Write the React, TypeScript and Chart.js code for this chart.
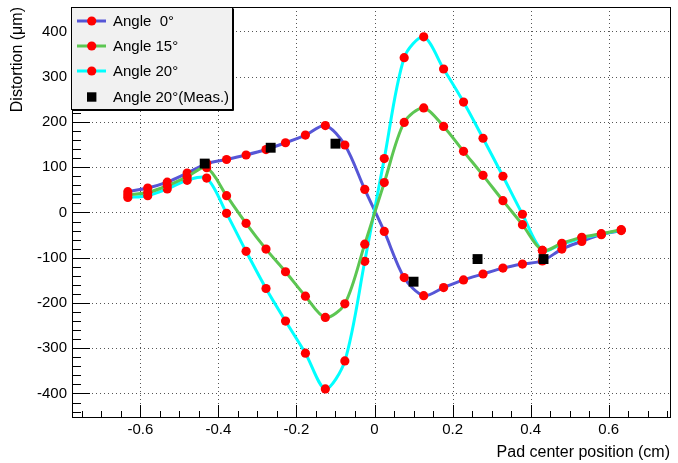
import React, { useEffect, useRef } from "react";
import { Chart, registerables } from "chart.js";

Chart.register(...registerables);

// ---- data ----
const xPositions = [
  -0.632, -0.581, -0.531, -0.48, -0.43, -0.379, -0.329, -0.278, -0.228, -0.177, -0.126, -0.076, -0.025,
  0.025, 0.076, 0.126, 0.177, 0.228, 0.278, 0.329, 0.379, 0.43, 0.48, 0.531, 0.581, 0.632,
];
const angle0 = [
  46, 54, 67, 87, 108, 117, 127, 139, 154, 171, 192, 149, 51,
  -42, -144, -184, -166, -149, -136, -123, -114, -107, -81, -64, -49, -40,
];
const angle15 = [
  39, 44, 59, 79, 99, 37, -24, -81, -131, -185, -232, -202, -70,
  66, 199, 231, 190, 135, 82, 26, -27, -84, -68, -55, -47, -38,
];
const angle20 = [
  33, 37, 52, 71, 76, -2, -86, -168, -240, -311, -390, -328, -108,
  119, 342, 388, 317, 244, 164, 80, -4, -84, -70, -57, -48, -39,
];
const measX = [-0.435, -0.266, -0.1, 0.1, 0.264, 0.433];
const measY = [108, 143, 152, -153, -103, -103];

const xTickValues = [-0.6, -0.4, -0.2, 0, 0.2, 0.4, 0.6];
const yTickValues = [-400, -300, -200, -100, 0, 100, 200, 300, 400];
const xMinorStep = 0.05;
const yMinorStep = 20;

const seriesLabels = ["Angle  0\u00b0", "Angle 15\u00b0", "Angle 20\u00b0", "Angle 20\u00b0(Meas.)"];
const xTitle = "Pad center position (cm)";
const yTitle = "Distortion (\u03bcm)";

const X_MIN = -0.775;
const X_MAX = 0.757;
const Y_MIN = -452;
const Y_MAX = 454;

const FONT = "'Liberation Sans', Arial, Helvetica, sans-serif";
const BLUE = "#5656d6";
const GREEN = "#5cc652";
const CYAN = "#00ffff";
const RED = "#ff0000";

const toPts = (xs: number[], ys: number[]) => xs.map((x, i) => ({ x, y: ys[i] }));

const framePlugin = {
  id: "rootFrame",
  beforeDatasetsDraw(chart: any) {
    const { ctx, chartArea: a, scales } = chart;
    const xs = scales.x;
    const ys = scales.y;
    ctx.save();
    ctx.lineWidth = 1;
    ctx.strokeStyle = "#555";
    ctx.setLineDash([1, 3]);
    xTickValues.forEach((v) => {
      const px = Math.round(xs.getPixelForValue(v)) + 0.5;
      ctx.beginPath();
      ctx.moveTo(px, a.top);
      ctx.lineTo(px, a.bottom);
      ctx.stroke();
    });
    yTickValues.forEach((v) => {
      const py = Math.round(ys.getPixelForValue(v)) + 0.5;
      ctx.beginPath();
      ctx.moveTo(a.left, py);
      ctx.lineTo(a.right, py);
      ctx.stroke();
    });
    ctx.restore();
  },
  afterDatasetsDraw(chart: any) {
    const { ctx, chartArea: a, scales } = chart;
    const xs = scales.x;
    const ys = scales.y;
    ctx.save();
    ctx.strokeStyle = "#000";
    ctx.lineWidth = 1;
    ctx.setLineDash([]);
    // x ticks (inward)
    for (let v = -0.75; v <= 0.7501; v += xMinorStep) {
      const vv = Math.round(v * 100) / 100;
      const major = Math.abs(Math.round(vv * 10) / 10 - vv) < 1e-6 && Math.round(vv * 10) % 2 === 0;
      const px = Math.round(xs.getPixelForValue(vv)) + 0.5;
      const len = major ? 12 : 6;
      ctx.beginPath();
      ctx.moveTo(px, a.bottom);
      ctx.lineTo(px, a.bottom - len);
      ctx.stroke();
    }
    // y ticks (inward)
    for (let v = -440; v <= 440; v += yMinorStep) {
      const major = v % 100 === 0;
      const py = Math.round(ys.getPixelForValue(v)) + 0.5;
      const len = major ? 18 : 9;
      ctx.beginPath();
      ctx.moveTo(a.left, py);
      ctx.lineTo(a.left + len, py);
      ctx.stroke();
    }
    ctx.strokeRect(Math.round(a.left) + 0.5, Math.round(a.top) + 0.5, Math.round(a.right - a.left), Math.round(a.bottom - a.top));
    ctx.restore();
  },
  afterDraw(chart: any) {
    const { ctx } = chart;
    ctx.save();
    const lx = 71.5, ly = 7.5, lw = 161, lh = 102;
    ctx.fillStyle = "#f1f1f1";
    ctx.fillRect(lx, ly, lw, lh);
    ctx.strokeStyle = "#000";
    ctx.lineWidth = 1;
    ctx.strokeRect(lx, ly, lw, lh);
    ctx.beginPath();
    ctx.moveTo(lx + lw + 1, ly + 1);
    ctx.lineTo(lx + lw + 1, ly + lh + 1);
    ctx.lineTo(lx + 1, ly + lh + 1);
    ctx.stroke();
    const rows = [21, 46, 71, 97];
    const colors = [BLUE, GREEN, CYAN];
    rows.forEach((ry, i) => {
      if (i < 3) {
        ctx.strokeStyle = colors[i];
        ctx.lineWidth = 3;
        ctx.beginPath();
        ctx.moveTo(77, ry);
        ctx.lineTo(106, ry);
        ctx.stroke();
        ctx.fillStyle = RED;
        ctx.beginPath();
        ctx.arc(91.7, ry, 4.6, 0, Math.PI * 2);
        ctx.fill();
      } else {
        ctx.fillStyle = "#000";
        ctx.fillRect(87, ry - 4.7, 9.4, 9.4);
      }
      ctx.fillStyle = "#000";
      ctx.font = `15px ${FONT}`;
      ctx.textBaseline = "middle";
      ctx.textAlign = "left";
      ctx.fillText(seriesLabels[i], 113, ry + 1);
    });
    ctx.restore();
  },
};

export default function App() {
  const canvasRef = useRef<HTMLCanvasElement | null>(null);

  useEffect(() => {
    const canvas = canvasRef.current;
    if (!canvas) return;
    const lineDs = (label: string, ys: number[], color: string, order: number) => ({
      label,
      data: toPts(xPositions, ys),
      borderColor: color,
      backgroundColor: RED,
      borderWidth: 3,
      pointRadius: 4.6,
      pointBackgroundColor: RED,
      pointBorderWidth: 0,
      pointBorderColor: RED,
      pointStyle: "circle",
      tension: 0.3,
      showLine: true,
      order,
    });
    const chart = new Chart(canvas, {
      type: "scatter",
      data: {
        datasets: [
          lineDs(seriesLabels[0], angle0, BLUE, 3),
          lineDs(seriesLabels[1], angle15, GREEN, 1),
          lineDs(seriesLabels[2], angle20, CYAN, 2),
          {
            label: seriesLabels[3],
            data: toPts(measX, measY),
            showLine: false,
            pointStyle: "rect",
            pointRadius: 7,
            pointBackgroundColor: "#000",
            pointBorderWidth: 0,
            backgroundColor: "#000",
            borderColor: "#000",
            order: 0,
          } as any,
        ],
      },
      options: {
        responsive: false,
        animation: false,
        devicePixelRatio: 1,
        layout: { padding: { top: 7, right: 8, left: 0, bottom: 0 } },
        plugins: {
          legend: { display: false },
          tooltip: { enabled: false },
        },
        events: [],
        scales: {
          x: {
            type: "linear",
            min: X_MIN,
            max: X_MAX,
            afterBuildTicks: (s: any) => {
              s.ticks = xTickValues.map((v) => ({ value: v }));
            },
            afterFit: (s: any) => {
              s.height = 46;
              s.paddingLeft = 0;
              s.paddingRight = 0;
              s.paddingTop = 0;
              s.paddingBottom = 0;
            },
            grid: { display: false, drawTicks: false },
            border: { display: false },
            ticks: {
              padding: 4,
              color: "#000",
              font: { family: FONT, size: 15 },
              maxRotation: 0,
              autoSkip: false,
              callback: (v: any) => (Math.abs(v) < 1e-9 ? "0" : Number(v).toFixed(1)),
            },
            title: {
              display: true,
              text: xTitle,
              align: "end",
              color: "#000",
              font: { family: FONT, size: 16 },
              padding: { top: 0, bottom: 1 },
            },
          },
          y: {
            type: "linear",
            min: Y_MIN,
            max: Y_MAX,
            afterBuildTicks: (s: any) => {
              s.ticks = yTickValues.map((v) => ({ value: v }));
            },
            afterFit: (s: any) => {
              s.width = 72;
              s.paddingLeft = 0;
              s.paddingRight = 0;
              s.paddingTop = 0;
              s.paddingBottom = 0;
            },
            grid: { display: false, drawTicks: false },
            border: { display: false },
            ticks: {
              padding: 5,
              color: "#000",
              font: { family: FONT, size: 15 },
              autoSkip: false,
              callback: (v: any) => String(Math.round(Number(v))),
            },
            title: {
              display: true,
              text: yTitle,
              align: "end",
              color: "#000",
              font: { family: FONT, size: 16 },
              padding: { top: 8, bottom: 0 },
            },
          },
        },
      } as any,
      plugins: [framePlugin],
    });
    return () => chart.destroy();
  }, []);

  return (
    <div style={{ position: "absolute", left: 0, top: 0, width: 678, height: 463, background: "#fff" }}>
      <canvas ref={canvasRef} width={678} height={463} style={{ display: "block" }} />
    </div>
  );
}
